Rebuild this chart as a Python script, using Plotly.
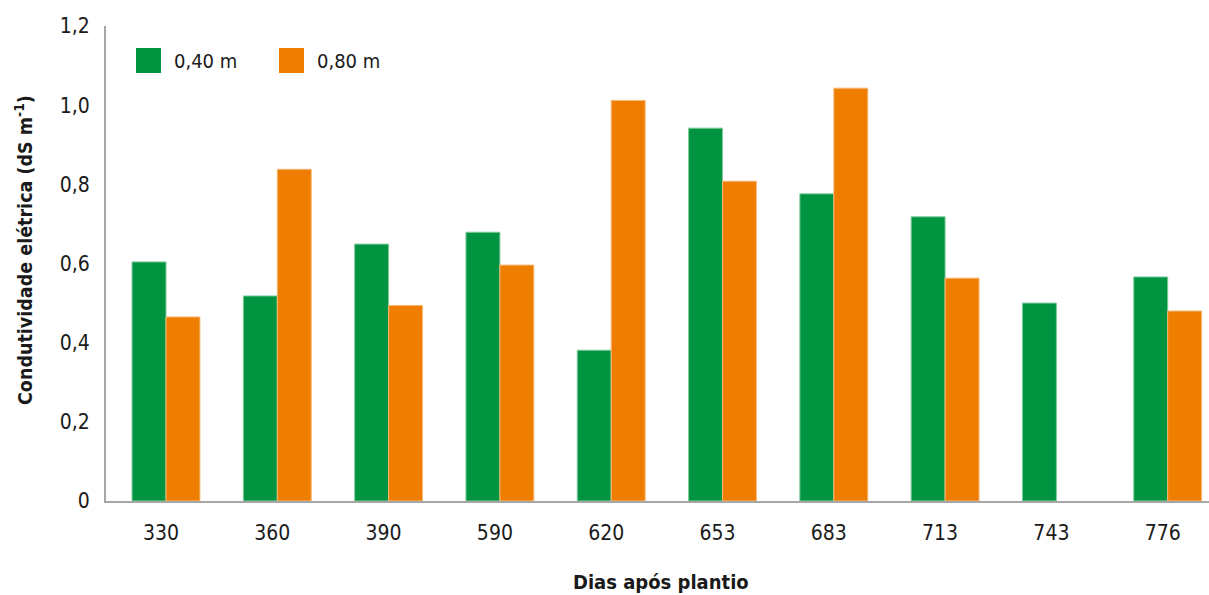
import plotly.graph_objects as go

# Days after planting (x categories)
dias = ["330", "360", "390", "590", "620", "653", "683", "713", "743", "776"]

# Electrical conductivity (dS m-1) at two depths
ce_040 = [0.604, 0.518, 0.649, 0.679, 0.381, 0.942, 0.776, 0.718, 0.500, 0.566]
ce_080 = [0.465, 0.838, 0.494, 0.596, 1.012, 0.808, 1.043, 0.563, None, 0.480]

y_ticks = [0, 0.2, 0.4, 0.6, 0.8, 1.0, 1.2]
y_ticklabels = ["0", "0,2", "0,4", "0,6", "0,8", "1,0", "1,2"]

series_names = ["0,40 m", "0,80 m"]
colors = ["#009440", "#EF7D00"]
edge_colors = ["#7FCB9C", "#F6B97A"]

FONT = "Liberation Sans Narrow, DejaVu Sans Condensed, Arial Narrow, sans-serif"

W, H = 1209, 595
ML, MT, MB = 106, 26, 94
plot_w = W - ML
plot_h = H - MT - MB

xpos = list(range(len(dias)))

fig = go.Figure()
for vals, name, col, ecol in zip([ce_040, ce_080], series_names, colors, edge_colors):
    fig.add_trace(go.Bar(
        x=xpos, y=vals, name=name,
        marker=dict(color=col, line=dict(color=ecol, width=1)),
        showlegend=False,
    ))


def px_x(p):
    return (p - ML) / plot_w


def px_y(p):
    return (H - MB - p) / plot_h


# Legend drawn as squares + labels inside the plot area
leg_x = [136, 279]
for lx, name, col in zip(leg_x, series_names, colors):
    fig.add_shape(type="rect", xref="paper", yref="paper",
                  x0=px_x(lx), x1=px_x(lx + 25), y0=px_y(73), y1=px_y(48),
                  fillcolor=col, line=dict(width=0))
    fig.add_annotation(xref="paper", yref="paper", x=px_x(lx + 36), y=px_y(61),
                       text=name, showarrow=False, xanchor="left", yanchor="middle",
                       font=dict(family=FONT, size=20, color="#1a1a1a"))

# Axis titles
fig.add_annotation(xref="paper", yref="paper", x=px_x(661), y=px_y(582),
                   text="<b>Dias após plantio</b>", showarrow=False,
                   xanchor="center", yanchor="middle",
                   font=dict(family=FONT, size=20, color="#1a1a1a"))
fig.add_annotation(xref="paper", yref="paper", x=px_x(24), y=px_y(250),
                   text="<b>Condutividade elétrica (dS m<sup>-1</sup>)</b>", showarrow=False,
                   textangle=-90, xanchor="center", yanchor="middle",
                   font=dict(family=FONT, size=19.5, color="#1a1a1a"))

k = 111.3
x0 = -(166 - ML) / k
x1 = x0 + plot_w / k

fig.update_layout(
    width=W, height=H,
    margin=dict(l=ML, r=0, t=MT, b=MB),
    paper_bgcolor="white", plot_bgcolor="white",
    barmode="group", bargap=0.39, bargroupgap=0,
    font=dict(family=FONT, size=21, color="#1a1a1a"),
    xaxis=dict(
        range=[x0, x1], tickmode="array", tickvals=xpos, ticktext=dias,
        showline=True, linecolor="#A6A6A6", linewidth=2, ticks="",
        showgrid=False, zeroline=False, ticklabelshift=-5, ticklabelstandoff=12,
        tickfont=dict(family=FONT, size=21, color="#1a1a1a"),
    ),
    yaxis=dict(
        range=[0, 1.2], tickmode="array", tickvals=y_ticks, ticktext=y_ticklabels,
        showline=True, linecolor="#A6A6A6", linewidth=2, ticks="",
        showgrid=False, zeroline=False, ticklabelstandoff=10,
        tickfont=dict(family=FONT, size=21, color="#1a1a1a"),
    ),
)

fig.write_html("out.html")
